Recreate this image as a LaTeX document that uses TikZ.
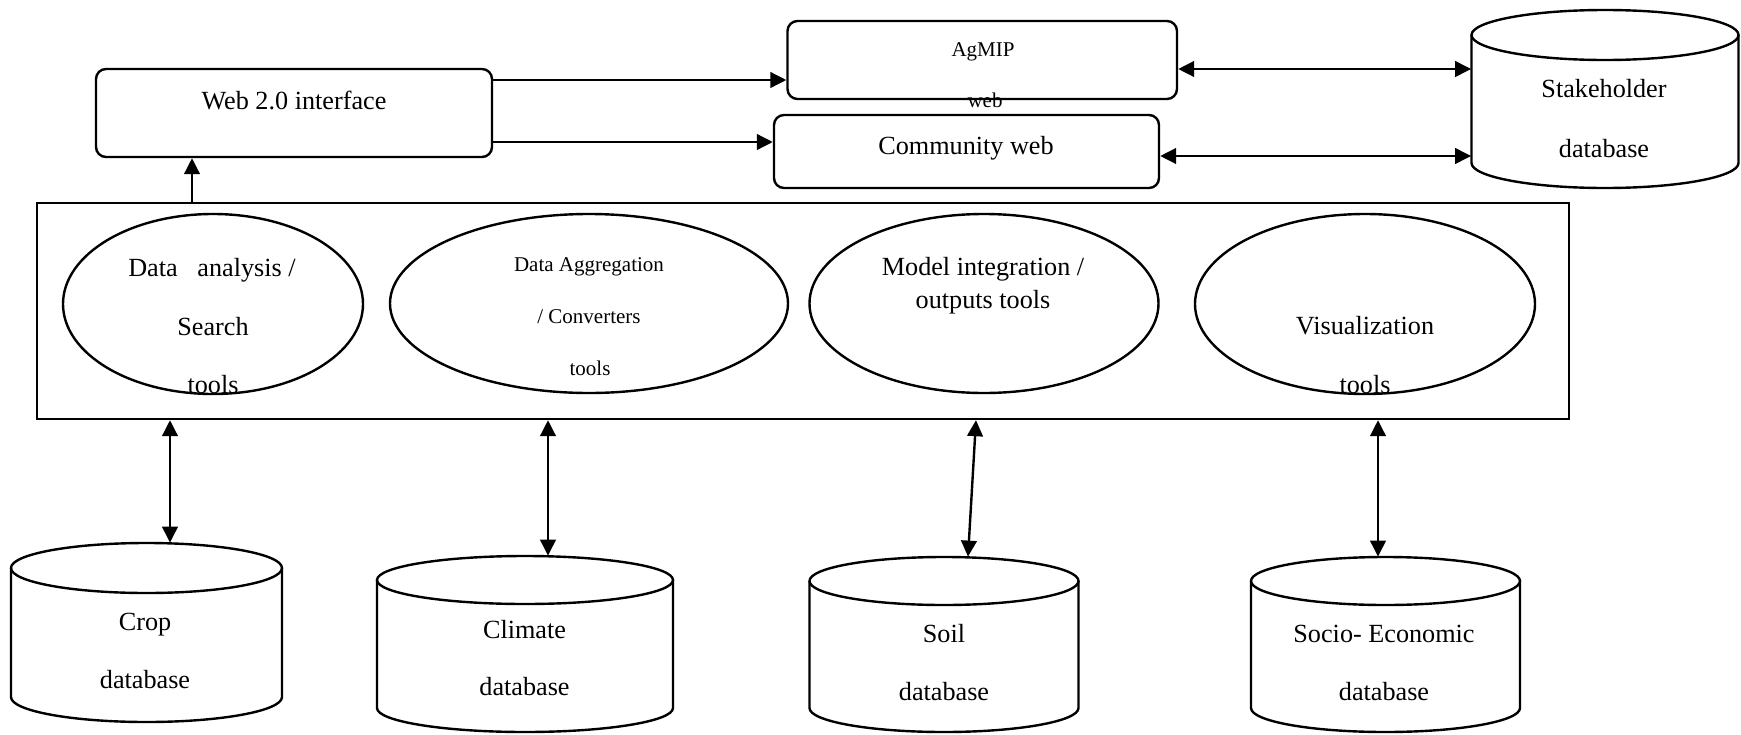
\documentclass[tikz,border=0pt]{standalone}
\usepackage{fontspec}
\setmainfont{Liberation Serif}
\usetikzlibrary{arrows.meta,shapes.geometric}
\tikzset{
  ln/.style={line width=1.2pt, black},
  rbox/.style={ln, draw, rectangle, rounded corners=5pt, inner sep=0pt},
  ell/.style={ln, draw, ellipse, inner sep=0pt},
  ghost/.style={rectangle, inner sep=0pt},
  arr/.style={ln, -{Triangle[length=8pt,width=7.8pt]}},
  darr/.style={ln, {Triangle[length=8pt,width=7.8pt]}-{Triangle[length=8pt,width=7.8pt]}},
  txt/.style={font=\fontsize{13.1}{15}\selectfont, inner sep=0pt, anchor=base},
  stxt/.style={font=\fontsize{10.5}{12}\selectfont, inner sep=0pt, anchor=base}
}
\begin{document}
\begin{tikzpicture}[x=0.5pt,y=-0.5pt]
\useasboundingbox (0,0) rectangle (1741,734);

% boxes
\node[rbox, minimum width=198pt, minimum height=44pt] (web) at (294,113) {};
\node[rbox, minimum width=194.75pt, minimum height=39pt] (ag) at (982.25,60) {};
\node[rbox, minimum width=192.5pt, minimum height=36.5pt] (com) at (966.5,151.5) {};
\node[ln, draw, rectangle, inner sep=0pt, minimum width=766pt, minimum height=108pt] (outer) at (803,311) {};

% ellipses
\node[ell, minimum width=150pt, minimum height=90pt] (e1) at (213,304) {};
\node[ell, minimum width=199pt, minimum height=89.5pt] (e2) at (589,303.5) {};
\node[ell, minimum width=174.5pt, minimum height=89.5pt] (e3) at (984,303.5) {};
\node[ell, minimum width=170pt, minimum height=90pt] (e4) at (1365,304) {};

% cylinders (ghost nodes for anchors)
\node[ghost, minimum width=133.5pt, minimum height=89pt] (stake) at (1605,99) {};
\node[ghost, minimum width=135.5pt, minimum height=89.5pt] (crop) at (146.5,632.5) {};
\node[ghost, minimum width=148pt, minimum height=88pt] (clim) at (525,644) {};
\node[ghost, minimum width=134.5pt, minimum height=87.5pt] (soil) at (944,644.5) {};
\node[ghost, minimum width=134.5pt, minimum height=87.5pt] (socio) at (1385.5,644.5) {};

% Stakeholder
\draw[ln] (1605,35) ellipse[x radius=66.75pt, y radius=12.5pt];
\draw[ln] (1471.5,35) -- (1471.5,163) arc[start angle=180,end angle=360,x radius=66.75pt,y radius=12.5pt] -- (1738.5,35);
% Crop
\draw[ln] (146.5,568) ellipse[x radius=67.75pt, y radius=12.5pt];
\draw[ln] (11,568) -- (11,697) arc[start angle=180,end angle=360,x radius=67.75pt,y radius=12.5pt] -- (282,568);
% Climate
\draw[ln] (525,580) ellipse[x radius=74pt, y radius=12pt];
\draw[ln] (377,580) -- (377,708) arc[start angle=180,end angle=360,x radius=74pt,y radius=12pt] -- (673,580);
% Soil
\draw[ln] (944,581) ellipse[x radius=67.25pt, y radius=12pt];
\draw[ln] (809.5,581) -- (809.5,708) arc[start angle=180,end angle=360,x radius=67.25pt,y radius=12pt] -- (1078.5,581);
% Socio
\draw[ln] (1385.5,581) ellipse[x radius=67.25pt, y radius=12pt];
\draw[ln] (1251,581) -- (1251,708) arc[start angle=180,end angle=360,x radius=67.25pt,y radius=12pt] -- (1520,581);

% connectors
\draw[arr] (web.east |- 0,80) -- (ag.west |- 0,80);
\draw[arr] (web.east |- 0,142) -- (com.west |- 0,142);
\draw[darr] (ag.east |- 0,69) -- (stake.west |- 0,69);
\draw[darr] (com.east |- 0,156) -- (stake.west |- 0,156);
\draw[arr] (outer.north -| 192,0) -- (web.south -| 192,0);
\draw[darr] (outer.south -| 170,0) -- (crop.north -| 170,0);
\draw[darr] (outer.south -| 548,0) -- (clim.north -| 548,0);
\draw[darr] (outer.south -| 976,0) -- (soil.north -| 968,0);
\draw[darr] (outer.south -| 1378,0) -- (socio.north -| 1378,0);

% texts
\node[txt] (tweb) at (294,109) {Web 2.0 interface};
\node[stxt] (tag1) at (983,56) {AgMIP};
\node[stxt] (tag2) at (985,107) {web};
\node[txt] (tcom) at (966,154) {Community web};
\node[txt] (tst1) at (1604,97) {Stakeholder};
\node[txt] (tst2) at (1604,157) {database};

\node[txt] (te11) at (212,276) {Data\ \ \ analysis /};
\node[txt] (te12) at (213,335) {Search};
\node[txt] (te13) at (213,393) {tools};

\node[stxt] (te21) at (589,271) {Data Aggregation};
\node[stxt] (te22) at (589,323) {/ Converters};
\node[stxt] (te23) at (590,375) {tools};

\node[txt] (te31) at (983,275) {Model integration /};
\node[txt] (te32) at (983,308) {outputs tools};

\node[txt] (te41) at (1365,334) {Visualization};
\node[txt] (te42) at (1365,393) {tools};

\node[txt] (tc1) at (145,630) {Crop};
\node[txt] (tc2) at (145,688) {database};
\node[txt] (tcl1) at (524.5,638) {Climate};
\node[txt] (tcl2) at (524.5,695) {database};
\node[txt] (ts1) at (944,642) {Soil};
\node[txt] (ts2) at (944,700) {database};
\node[txt] (tso1) at (1384,642) {Socio- Economic};
\node[txt] (tso2) at (1384,700) {database};
\end{tikzpicture}
\end{document}
